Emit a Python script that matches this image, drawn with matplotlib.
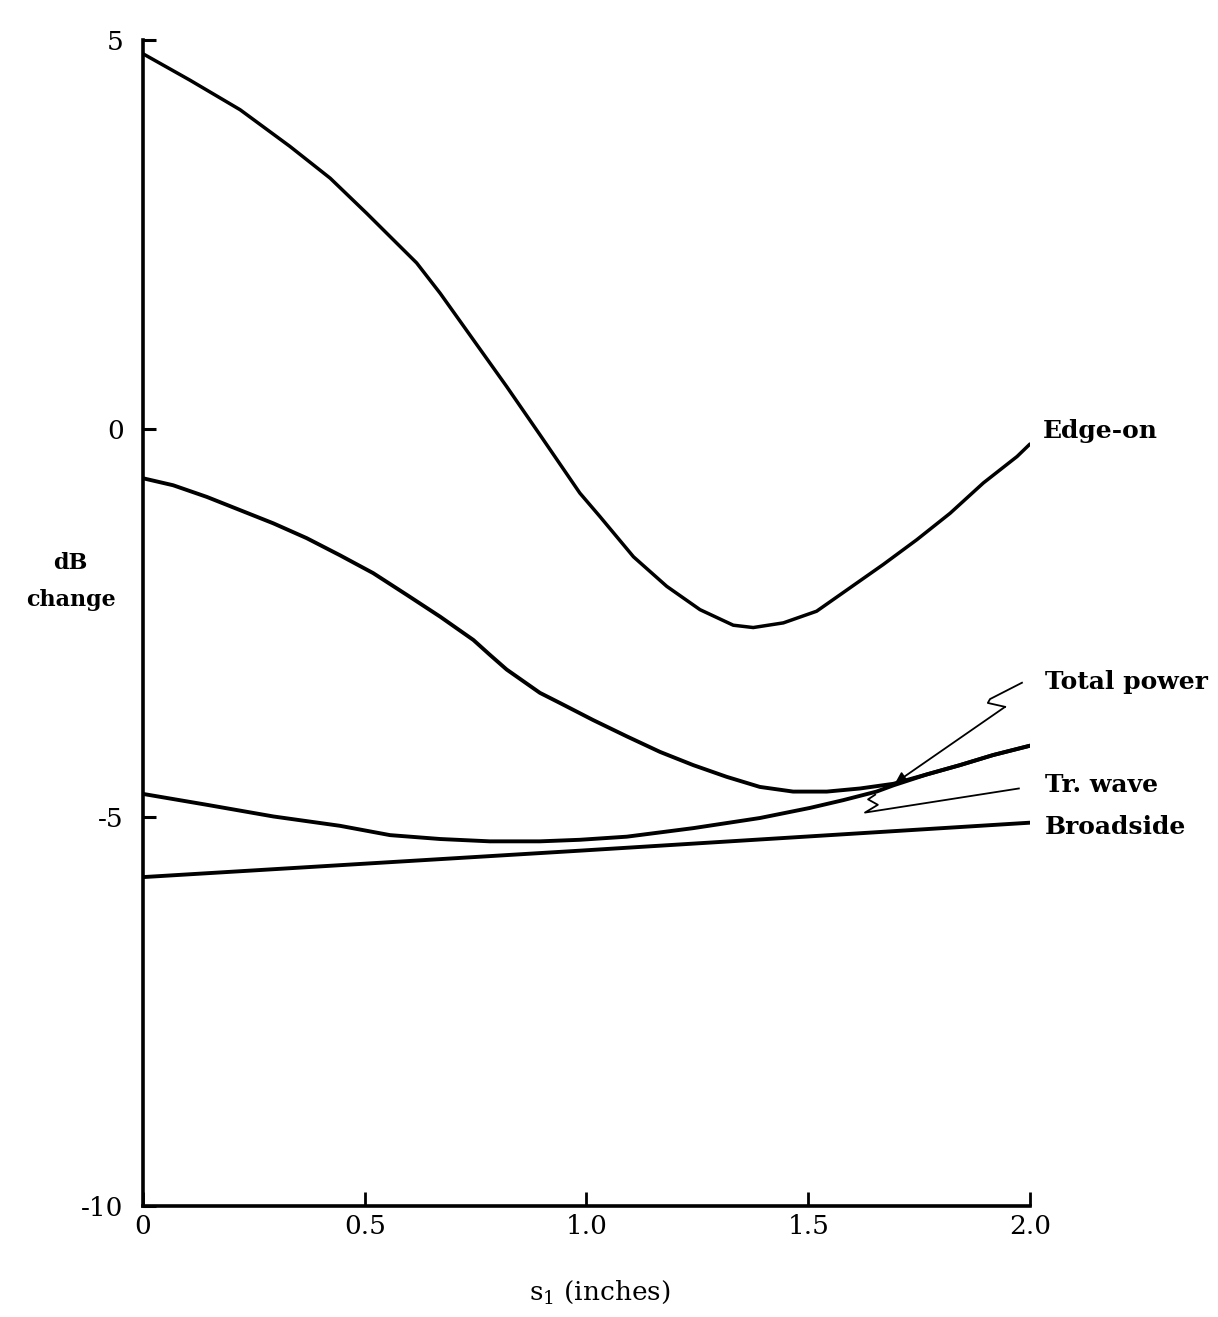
import matplotlib
matplotlib.use("Agg")
import matplotlib.pyplot as plt

# ---- data ----
edge_s = [0.0, 0.106, 0.219, 0.331, 0.422, 0.504, 0.564, 0.617, 0.670, 0.745,
          0.820, 0.895, 0.985, 1.030, 1.106, 1.181, 1.256, 1.331, 1.376, 1.444,
          1.519, 1.594, 1.669, 1.745, 1.820, 1.895, 1.971, 2.0]
edge_db = [4.82, 4.48, 4.10, 3.63, 3.22, 2.77, 2.43, 2.13, 1.74, 1.14,
           0.54, -0.08, -0.83, -1.13, -1.65, -2.03, -2.33, -2.53, -2.56, -2.50,
           -2.35, -2.05, -1.75, -1.43, -1.09, -0.70, -0.36, -0.20]

total_s = [0.0, 0.068, 0.144, 0.219, 0.294, 0.369, 0.444, 0.519, 0.595, 0.670,
           0.745, 0.782, 0.820, 0.895, 0.940, 1.015, 1.091, 1.166, 1.241, 1.316,
           1.391, 1.466, 1.542, 1.617, 1.692, 1.767, 1.842, 1.917, 2.0]
total_db = [-0.64, -0.73, -0.88, -1.05, -1.22, -1.41, -1.63, -1.86, -2.14, -2.42,
            -2.72, -2.91, -3.10, -3.40, -3.53, -3.75, -3.96, -4.16, -4.33, -4.48,
            -4.61, -4.67, -4.67, -4.63, -4.57, -4.45, -4.33, -4.20, -4.08]

trwave_s = [0.0, 0.144, 0.294, 0.444, 0.557, 0.670, 0.782, 0.895, 0.985, 1.091,
            1.241, 1.391, 1.504, 1.579, 1.654, 1.692, 1.767, 1.842, 1.917, 2.0]
trwave_db = [-4.70, -4.84, -4.99, -5.11, -5.23, -5.28, -5.31, -5.31, -5.29, -5.25,
             -5.14, -5.01, -4.88, -4.78, -4.67, -4.59, -4.45, -4.33, -4.20, -4.08]

broad_s = [0.0, 0.985, 2.0]
broad_db = [-5.77, -5.43, -5.07]

x_ticks = [0, 0.5, 1.0, 1.5, 2.0]
x_ticklabels = ["0", "0.5", "1.0", "1.5", "2.0"]
y_ticks = [5, 0, -5, -10]
y_ticklabels = ["5", "0", "-5", "-10"]

series_labels = ["Edge-on", "Total power", "Tr. wave", "Broadside"]
label_y = [-0.03, -3.26, -4.58, -5.12]
label_x = [2.029, 2.034, 2.034, 2.034]

# hand-drawn leader lines (data coords)
tp_leader_s = [1.982, 1.910, 1.905, 1.944]
tp_leader_db = [-3.27, -3.48, -3.53, -3.58]
tp_tip = (1.696, -4.56)
tw_leader_s = [1.975, 1.628, 1.657, 1.635, 1.651]
tw_leader_db = [-4.63, -4.94, -4.84, -4.77, -4.71]

# ---- figure ----
plt.rcParams["font.family"] = ["DejaVu Serif"]
plt.rcParams["mathtext.fontset"] = "dejavuserif"

fig = plt.figure(figsize=(12.18, 13.17), dpi=100)
ax = fig.add_axes([0.1174, 0.0843, 0.7282, 0.8855])
ax.set_xlim(0, 2.0)
ax.set_ylim(-10, 5)

style = dict(color="black", solid_capstyle="round", solid_joinstyle="round")
ax.plot(edge_s, edge_db, lw=2.5, **style)
ax.plot(total_s, total_db, lw=2.8, **style)
ax.plot(trwave_s, trwave_db, lw=2.8, **style)
ax.plot(broad_s, broad_db, lw=2.8, **style)

# leader lines
ax.plot(tp_leader_s, tp_leader_db, color="black", lw=1.3, clip_on=False)
ax.annotate("", xy=tp_tip, xytext=(tp_leader_s[-1], tp_leader_db[-1]),
            arrowprops=dict(arrowstyle="-|>", lw=1.3, color="black", mutation_scale=16,
                            shrinkA=0, shrinkB=0), annotation_clip=False)
ax.plot(tw_leader_s, tw_leader_db, color="black", lw=1.3, clip_on=False)

for txt, xs, ys in zip(series_labels, label_x, label_y):
    ax.text(xs, ys, txt, fontsize=18, fontweight="bold", ha="left", va="center", clip_on=False)

for side in ["top", "right"]:
    ax.spines[side].set_visible(False)
for side in ["left", "bottom"]:
    ax.spines[side].set_linewidth(2.6)

ax.set_xticks(x_ticks)
ax.set_xticklabels(x_ticklabels)
ax.set_yticks(y_ticks)
ax.set_yticklabels(y_ticklabels)
ax.tick_params(axis="x", direction="in", length=10, width=2, pad=6, labelsize=19)
ax.tick_params(axis="y", direction="in", length=9, width=2.2, pad=14, labelsize=19)

fig.text(0.058, 1 - 563 / 1317, "dB", fontsize=16, fontweight="bold", ha="center", va="center")
fig.text(0.058, 1 - 600 / 1317, "change", fontsize=16, fontweight="bold", ha="center", va="center")
fig.text(0.4926, 1 - 1292 / 1317, r"$\mathrm{s}_{1}$ (inches)", fontsize=19, ha="center", va="center")

fig.savefig("out.png", dpi=100, facecolor="white")
